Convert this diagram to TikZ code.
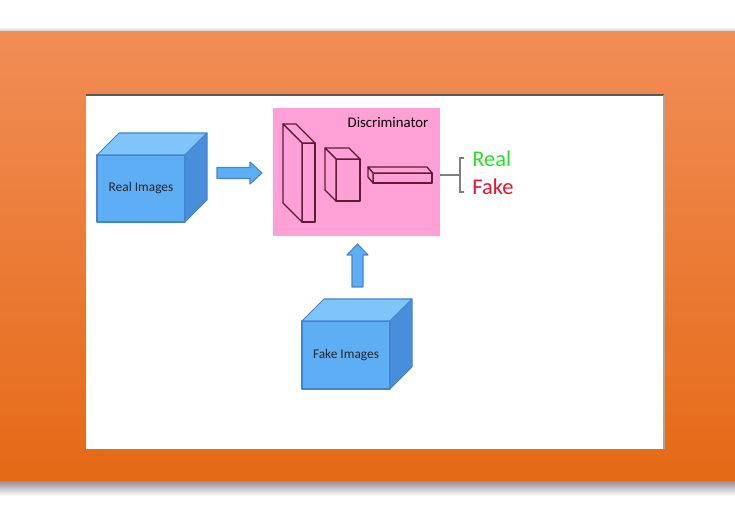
\documentclass[tikz,border=0pt]{standalone}
\usepackage{fontspec}
\setmainfont{Carlito}
\usetikzlibrary{calc}

\definecolor{bandtop}{RGB}{241,141,86}
\definecolor{bandbot}{RGB}{229,105,22}
\definecolor{cubefront}{RGB}{94,174,245}
\definecolor{cubetop}{RGB}{128,197,250}
\definecolor{cubeside}{RGB}{72,142,218}
\definecolor{cubeedge}{RGB}{66,134,208}
\definecolor{discpink}{RGB}{255,161,214}
\definecolor{layeredge}{RGB}{92,28,52}
\definecolor{realgreen}{RGB}{44,222,44}
\definecolor{fakered}{RGB}{236,18,48}

\begin{document}
\begin{tikzpicture}[x=0.02cm,y=-0.02cm,
    cubeline/.style={line width=0.6pt,draw=cubeedge,line join=round},
    layerline/.style={line width=0.75pt,draw=layeredge,fill=discpink,line join=round},
    blockarrow/.style={line width=0.6pt,draw=cubeedge,fill=cubefront,line join=round},
    imgtext/.style={font=\fontsize{7.6}{9}\selectfont,text=black!85}]
            \useasboundingbox (0,0) rectangle (735,530);

            % Define the depth of the cubes
            \def\d{22}  % depth of the blue cubes
            
            % Draw the orange band and the white panel
            \shade[top color=white, bottom color=black!25] (0,27) rectangle (735,32);
            \shade[top color=bandtop, bottom color=bandbot] (0,32) rectangle (735,482);
            \shade[top color=black!40, bottom color=white] (0,482) rectangle (735,496);
            \fill[white] (86,95) rectangle (664,449);
            \draw[black!65,line width=0.6pt] (86,95) -- (664,95);
            \draw[black!35,line width=0.6pt] (664,95) -- (664,449);
            
            % Calculate the coordinates of the real cube
            \coordinate (R00) at (97,222);
            \coordinate (R10) at (185,222);
            \coordinate (R11) at (185,155);
            \coordinate (R01) at (97,155);
            
            % Draw the real cube
            \draw[cubeline,fill=cubefront] (R00) -- (R10) -- (R11) -- (R01) -- cycle;
            \draw[cubeline,fill=cubetop] (R01) -- (R11) -- ($(R11)+(\d,-\d)$) -- ($(R01)+(\d,-\d)$) -- cycle;
            \draw[cubeline,fill=cubeside] (R10) -- ($(R10)+(\d,-\d)$) -- ($(R11)+(\d,-\d)$) -- (R11) -- cycle;
            \node[imgtext] (real) at ($(R00)!0.5!(R11)$) {Real Images};
            
            % Calculate the coordinates of the fake cube
            \coordinate (F00) at (302,389);
            \coordinate (F10) at (390,389);
            \coordinate (F11) at (390,321);
            \coordinate (F01) at (302,321);
            
            % Draw the fake cube
            \draw[cubeline,fill=cubefront] (F00) -- (F10) -- (F11) -- (F01) -- cycle;
            \draw[cubeline,fill=cubetop] (F01) -- (F11) -- ($(F11)+(\d,-\d)$) -- ($(F01)+(\d,-\d)$) -- cycle;
            \draw[cubeline,fill=cubeside] (F10) -- ($(F10)+(\d,-\d)$) -- ($(F11)+(\d,-\d)$) -- (F11) -- cycle;
            \node[imgtext] (fake) at ($(F00)!0.5!(F11)$) {Fake Images};
            
            % Draw the block arrows
            \draw[blockarrow] (217,167.5) -- (250,167.5) -- (250,162) -- (262,173) -- (250,184) -- (250,178.5) -- (217,178.5) -- cycle;
            \draw[blockarrow] (352,287) -- (352,255) -- (347,255) -- (357.5,244) -- (368,255) -- (363,255) -- (363,287) -- cycle;
            
            % Draw the discriminator box
            \node[fill=discpink,minimum width=3.34cm,minimum height=2.56cm,inner sep=0pt] (disc) at (356.5,172) {};
            \node[font=\fontsize{8.4}{10}\selectfont] (disctxt) at (388,122) {Discriminator};
            
            % Draw the layers (front face, top face, side face)
            \draw[layerline] (302,143) rectangle (315,222);
            \draw[layerline] (302,143) -- (315,143) -- (296,124) -- (283,124) -- cycle;
            \draw[layerline] (302,143) -- (283,124) -- (283,203) -- (302,222) -- cycle;
            
            \draw[layerline] (336,159) rectangle (360,201);
            \draw[layerline] (336,159) -- (360,159) -- (349,148) -- (325,148) -- cycle;
            \draw[layerline] (336,159) -- (325,148) -- (325,190) -- (336,201) -- cycle;
            
            \draw[layerline] (373,173) rectangle (432,183);
            \draw[layerline] (373,173) -- (432,173) -- (427,167) -- (368,167) -- cycle;
            \draw[layerline] (373,173) -- (368,167) -- (368,177) -- (373,183) -- cycle;
            
            % Draw the output bracket
            \coordinate (brk) at (460,175);
            \coordinate (brtop) at (463.5,158);
            \coordinate (brbot) at (463.5,192);
            \draw[black!50,line width=0.8pt] (disc.east |- brk) -- (brk);
            \draw[black!50,line width=0.8pt] (brtop) -- (brtop -| brk) -- (brbot -| brk) -- (brbot);
            \node[anchor=base west,inner sep=0pt,font=\fontsize{12.8}{14}\selectfont,text=realgreen] (realout) at (472,167) {Real};
            \node[anchor=base west,inner sep=0pt,font=\fontsize{12.8}{14}\selectfont,text=fakered] (fakeout) at (472,195) {Fake};
            
        \end{tikzpicture}
\end{document}
